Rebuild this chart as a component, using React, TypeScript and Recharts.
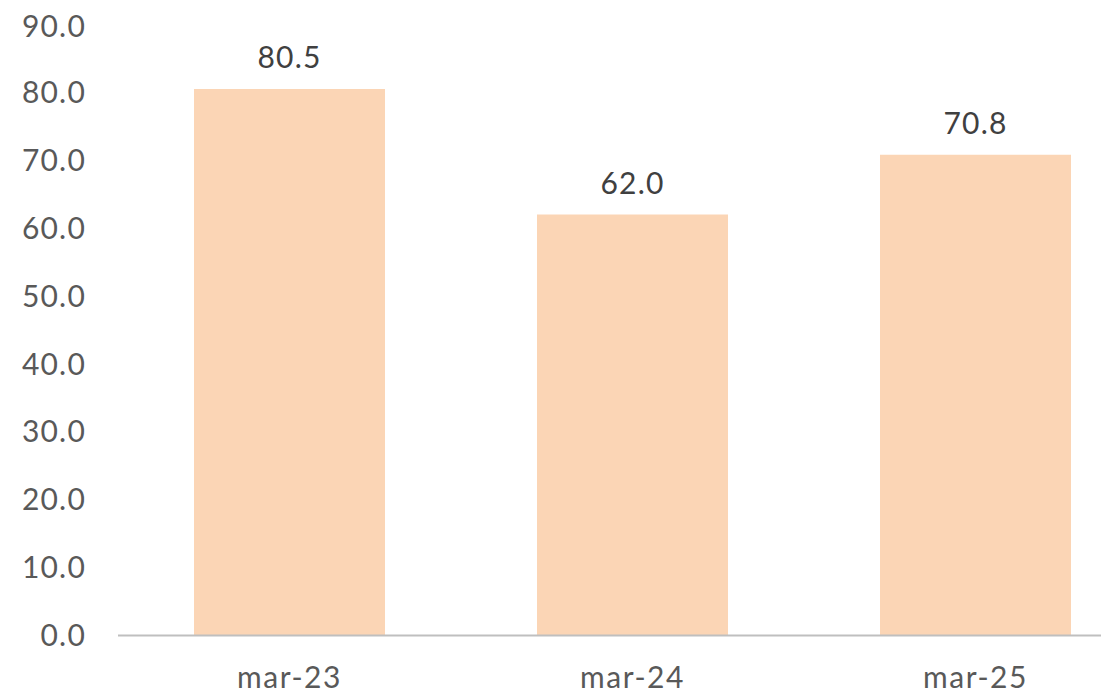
import { Bar, BarChart, LabelList, XAxis, YAxis } from "recharts";

const periods = ["mar-23", "mar-24", "mar-25"];
const values = [80.5, 62.0, 70.8];
const yTicks = [0, 10, 20, 30, 40, 50, 60, 70, 80, 90];

const data = periods.map((period, i) => ({ period, value: values[i] }));

const FONT = "Lato, 'Open Sans', sans-serif";
const fmt = (v: number) => v.toFixed(1);

export default function App() {
  return (
    <div style={{ width: 1106, height: 687, overflow: "hidden", fontFamily: FONT }}>
      <BarChart
        width={1160}
        height={687}
        data={data}
        margin={{ top: 16.5, right: 21, left: 0, bottom: 0 }}
      >
        <XAxis
          dataKey="period"
          height={59.5}
          tickLine={false}
          tickSize={0}
          tickMargin={31}
          axisLine={{ stroke: "#bfbfbf", strokeWidth: 2, strokeDasharray: "983 2000" }}
          tick={{ fill: "#595959", fontSize: 30, fontFamily: FONT, letterSpacing: 1.5 }}
        />
        <YAxis
          domain={[0, 90]}
          ticks={yTicks}
          width={110}
          axisLine={false}
          tickLine={false}
          tickSize={0}
          tickMargin={32}
          tickFormatter={fmt}
          tick={{ fill: "#595959", fontSize: 30, fontFamily: FONT, letterSpacing: 1.2 }}
        />
        <Bar dataKey="value" fill="#fbd5b5" barSize={191} isAnimationActive={false}>
          <LabelList
            dataKey="value"
            position="top"
            offset={21}
            formatter={(v: number) => fmt(v)}
            style={{ fill: "#404040", fontSize: 30, fontFamily: FONT, letterSpacing: 1.2 }}
          />
        </Bar>
      </BarChart>
    </div>
  );
}
